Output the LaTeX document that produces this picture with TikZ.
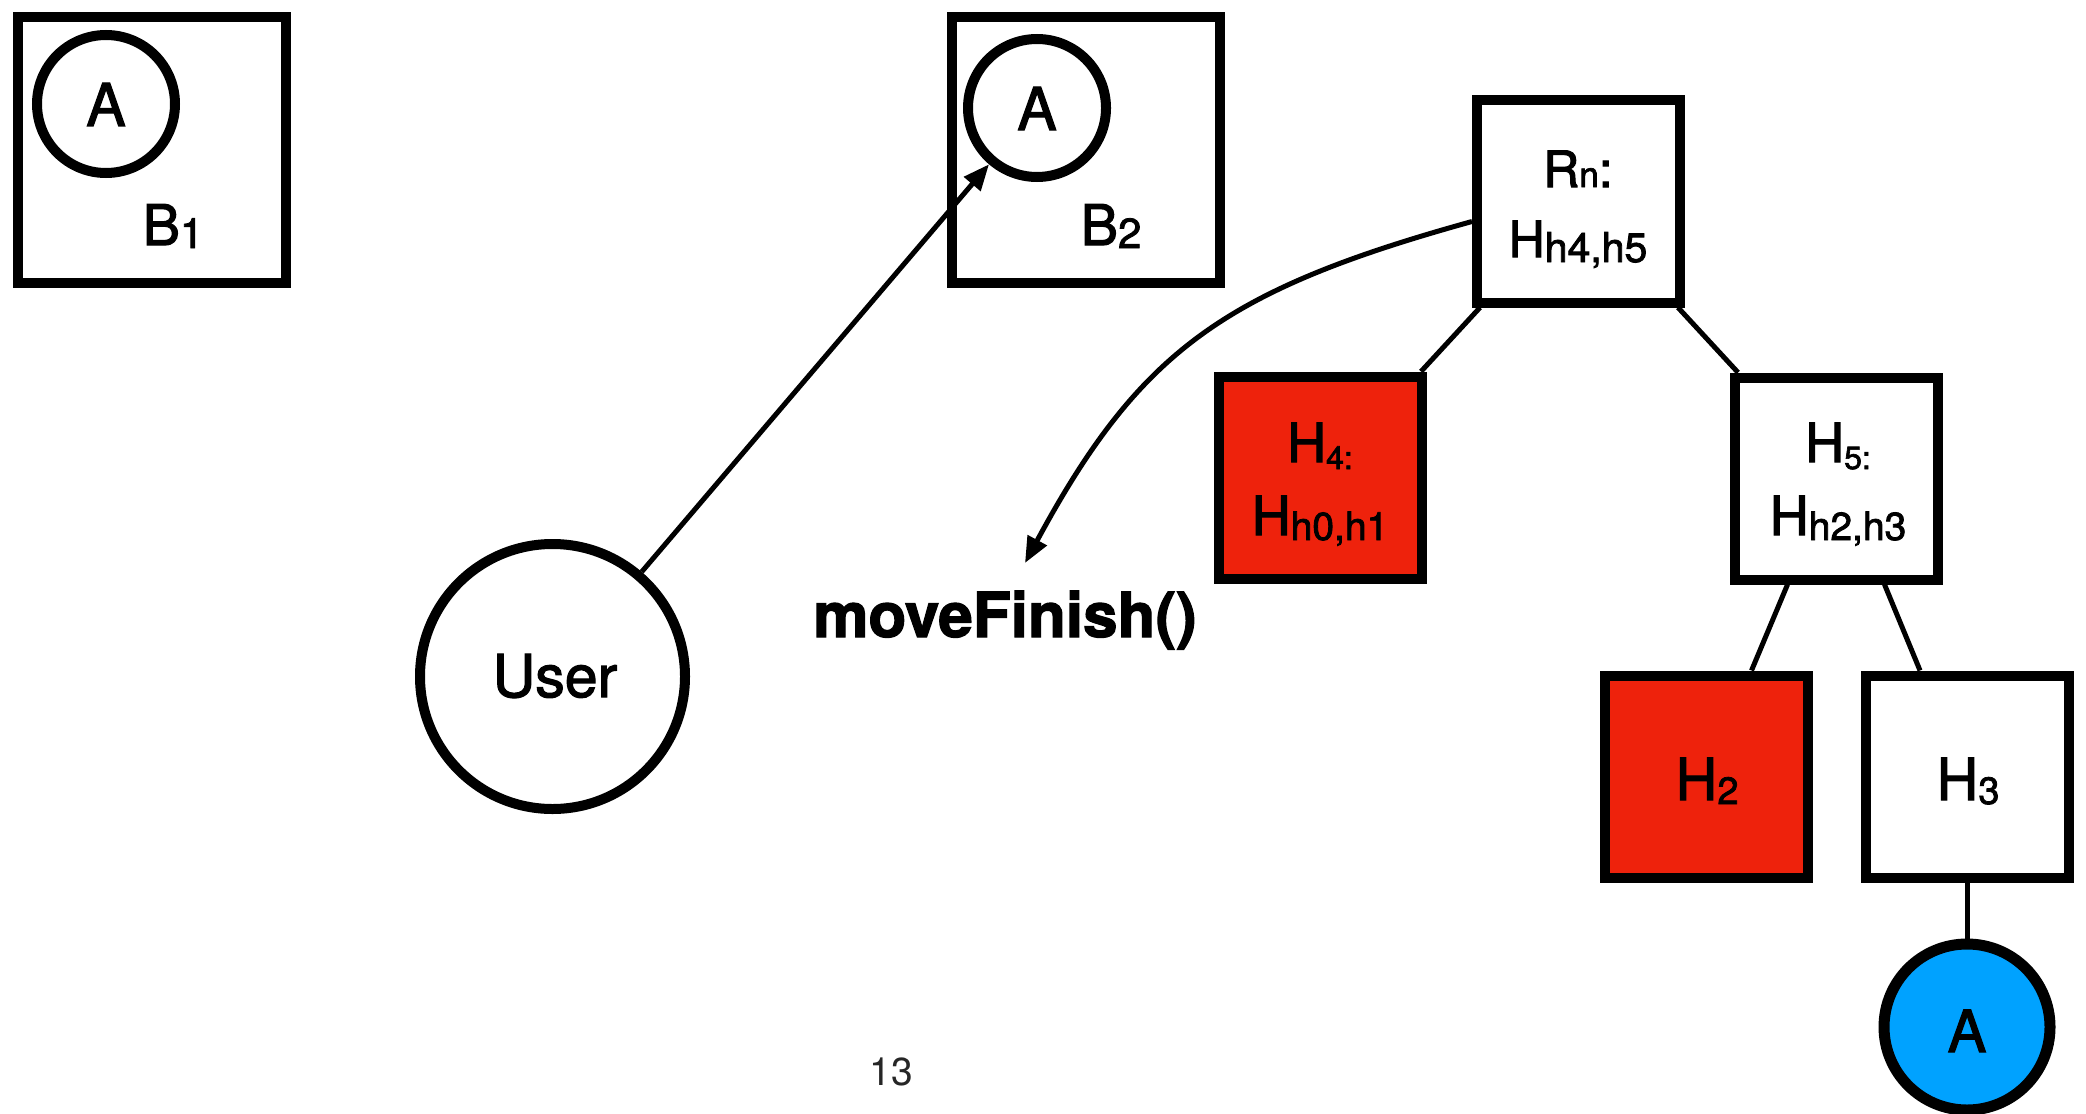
\documentclass[tikz,border=0pt]{standalone}
\usepackage{fontspec}
\setmainfont{TeX Gyre Heros}[FakeBold=2]
\newfontfamily\thinfont{TeX Gyre Heros}
\usetikzlibrary{arrows.meta,calc}
\definecolor{hotred}{HTML}{EE220C}
\definecolor{skyblue}{HTML}{00A2FF}
% font size helper and lowered subscript: \lowsub{size}{drop}{text}
\newcommand{\fsz}[1]{\fontsize{#1}{#1}\selectfont}
\newcommand{\lowsub}[3]{\raisebox{-#2}{\fontsize{#1}{#1}\selectfont #3}}
\begin{document}
\begin{tikzpicture}[x=0.5pt,y=-0.5pt,
  bigbox/.style={draw, line width=5pt, minimum width=134pt, minimum height=133pt, inner sep=0pt},
  treebox/.style={draw, line width=5pt, minimum width=101.5pt, minimum height=101pt, inner sep=0pt},
  ring/.style={circle, draw, line width=5pt, inner sep=0pt},
  txt/.style={anchor=base, inner sep=0pt},
  link/.style={line width=2.5pt},
  arr/.style={line width=2.5pt, -{Triangle[length=13pt,width=10.5pt]}}]
\useasboundingbox (0,0) rectangle (2086,1113);

% the two bins with their entries
\node[bigbox] (b1) at (151.5,150) {};
\node[ring, minimum size=69pt] (a1) at (106,104) {};
\node[txt, font=\fsz{29.5pt}] (a1t) at (106,126) {A};
\node[txt, font=\fsz{28pt}] (b1t) at (173,245) {B\lowsub{21pt}{1.5pt}{1}};

\node[bigbox] (b2) at (1086,150) {};
\node[ring, minimum size=69pt] (a2) at (1037,108) {};
\node[txt, font=\fsz{29.5pt}] (a2t) at (1037,130) {A};
\node[txt, font=\fsz{28pt}] (b2t) at (1111,245) {B\lowsub{21pt}{1.5pt}{2}};

% user and its move
\node[ring, minimum size=132.5pt] (user) at (552.5,676.5) {};
\node[txt, font=\fsz{29.5pt}] (usert) at (555,697) {User};
\draw[arr] (user) -- (a2);

% hash tree
\node[treebox] (rn) at (1578.5,201.5) {};
\node[treebox, fill=hotred] (h4) at (1320.5,477.5) {};
\node[treebox] (h5) at (1836.5,478.5) {};
\node[treebox, fill=hotred] (h2) at (1706.5,776.5) {};
\node[treebox] (h3) at (1967,776.5) {};
\node[ring, minimum size=83pt, line width=5.5pt, fill=skyblue] (ab) at (1967,1027) {};

% two-line labels: the base anchor sits on the second line
\node[txt, align=center, font=\fontsize{25pt}{35pt}\selectfont] (rnt) at (1578,257)
  {R\lowsub{17.5pt}{0pt}{n}:\\H\lowsub{20.5pt}{2.5pt}{h4,h5}};
\node[txt, align=center, font=\fontsize{27pt}{36.5pt}\selectfont] (h4t) at (1320,535)
  {H\lowsub{16pt}{3.5pt}{4:}\\H\lowsub{19.5pt}{2.5pt}{h0,h1}};
\node[txt, align=center, font=\fontsize{27pt}{36.5pt}\selectfont] (h5t) at (1838,535)
  {H\lowsub{16pt}{3.5pt}{5:}\\H\lowsub{19.5pt}{2.5pt}{h2,h3}};
\node[txt, font=\fsz{29pt}] (h2t) at (1707,800) {H\lowsub{19pt}{2pt}{2}};
\node[txt, font=\fsz{29pt}] (h3t) at (1968,800) {H\lowsub{19pt}{2pt}{3}};
\node[txt, font=\fsz{29pt}] (abt) at (1967,1052) {A};

\draw[link] ($(rn.south west)+(8,0)$) -- ($(h4.north east)+(-6,0)$);
\draw[link] ($(rn.south east)+(-7,0)$) -- ($(h5.north west)+(8,0)$);
\draw[link] ($(h5.south)+(-49,0)$) -- ($(h2.north)+(45,0)$);
\draw[link] ($(h5.south)+(48,0)$) -- ($(h3.north)+(-47,0)$);
\draw[link] (h3) -- (ab);

% callback label and its curved arrow
\node[txt, font=\bfseries\fsz{31pt}] (mf) at (1005,637) {moveFinish()};
\coordinate (mfend) at (1025,563);
\draw[arr] ($(rn.west)+(0,20)$) .. controls (1225,290) and (1140,350) .. (mfend);

% page number
\node[txt, font=\thinfont\fsz{19.5pt}, text=black!85] (pg) at (891,1085) {13};
\end{tikzpicture}
\end{document}
